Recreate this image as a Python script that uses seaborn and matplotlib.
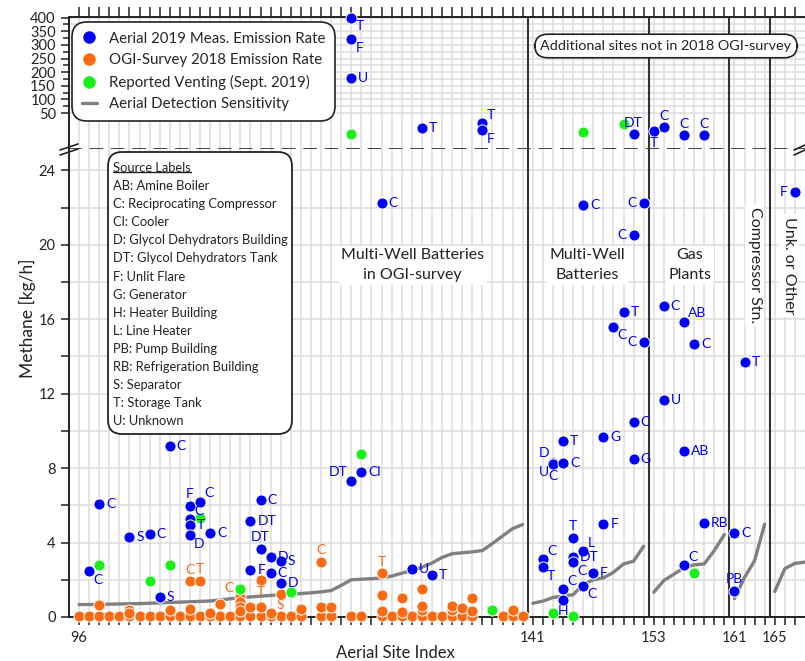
import numpy as np
import pandas as pd
import matplotlib
matplotlib.use("Agg")
import matplotlib.pyplot as plt
import seaborn as sns
from matplotlib.lines import Line2D
from matplotlib.patches import FancyBboxPatch
from matplotlib.transforms import IdentityTransform

# ---- values ----
# Aerial 2019 measured emission rates, lower panel (kg/h)
aer_site = [97, 98, 101, 103, 104, 105, 107, 107, 107, 107, 108, 109,
            113, 113, 114, 114, 115, 115, 116, 116, 123, 124, 126, 129, 131,
            142, 142, 143, 143, 143, 144, 144, 144, 144, 145, 145, 145,
            146, 146, 146, 147, 148, 148, 149, 150, 151, 151, 151, 152, 152,
            154, 154, 156, 156, 156, 157, 158, 161, 161, 162, 167]
aer_rate = [2.45, 6.05, 4.32, 4.48, 1.10, 9.21, 5.99, 5.24, 4.97, 4.38, 6.20, 4.54,
            5.18, 2.50, 6.31, 3.68, 3.25, 2.34, 3.03, 1.85, 7.33, 7.81, 22.25, 2.60, 2.28,
            3.09, 2.66, 8.35, 8.28, 8.22, 8.30, 9.48, 1.48, 0.94, 4.27, 3.20, 2.93,
            3.52, 1.69, 22.15, 2.34, 9.69, 5.02, 15.60, 16.41, 10.47, 8.51, 20.54, 22.26, 14.75,
            11.68, 16.69, 15.87, 8.94, 2.77, 14.68, 5.07, 4.54, 1.42, 13.72, 22.86]
aer_src = ['C', 'C', 'S', 'C', 'S', 'C', 'F', 'C', 'T', 'D', 'C', 'C',
           'DT', 'F', 'C', 'DT', 'D', 'C', 'S', 'D', 'DT', 'Cl', 'C', 'U', 'T',
           'C', 'T', 'D', 'U', 'C', 'C', 'T', 'C', 'H', 'T', 'DT', 'C',
           'L', 'C', 'C', 'F', 'G', 'F', 'C', 'T', 'C', 'G', 'C', 'C', 'C',
           'U', 'C', 'AB', 'AB', 'C', 'C', 'RB', 'C', 'PB', 'T', 'F']
# where each source tag sits next to its dot
aer_side = ['br', 'r', 'r', 'r', 'r', 'r', 'a', 'ar', 'r', 'br', 'ar', 'r',
            'r', 'r', 'r', 'a', 'r', 'r', 'r', 'r', 'al', 'r', 'r', 'r', 'r',
            'ar', 'br', 'al', 'bl', 'b', 'r', 'r', 'ar', 'b', 'a', 'r', 'br',
            'ar', 'br', 'r', 'r', 'r', 'r', 'br', 'r', 'r', 'r', 'l', 'l', 'l',
            'r', 'r', 'ar', 'r', 'ar', 'r', 'r', 'r', 'a', 'r', 'l']

# Aerial measurements above the axis break (kg/h)
up_site = [123, 123, 123, 130, 136, 136, 151, 153, 154, 156, 158]
up_rate = [400, 320, 180, 39, 42.6, 38, 35, 37, 40, 34, 34]
up_src = ['T', 'F', 'U', 'T', 'T', 'F', 'DT', 'T', 'C', 'C', 'C']
up_side = ['br', 'br', 'r', 'r', 'ar', 'br', 'a', 'b', 'a', 'a', 'a']

# Reported venting (Sept. 2019)
vent_site = [98, 103, 105, 108, 112, 117, 124, 137, 143, 145, 157]
vent_rate = [2.82, 1.96, 2.82, 5.34, 1.53, 1.32, 8.78, 0.35, 0.19, 0.08, 2.39]
vent_up_site = [123, 146, 150]
vent_up_rate = [35, 36.4, 42]

# OGI-survey 2018 emission rates
ogi_zero_site = [96, 97, 98, 99, 100, 101, 102, 103, 104, 105, 106, 107, 108, 109,
                 110, 111, 112, 113, 114, 115, 116, 117, 118, 120, 121, 123, 124,
                 126, 127, 128, 129, 130, 131, 132, 133, 134, 135, 138, 139, 140]
ogi_zero_rate = [0.08, 0.08, 0.08, 0.08, 0.08, 0.08, 0.08, 0.08, 0.08, 0.08, 0.08,
                 0.08, 0.08, 0.08, 0.08, 0.08, 0.08, 0.08, 0.08, 0.08, 0.08, 0.08,
                 0.08, 0.08, 0.08, 0.08, 0.08, 0.08, 0.08, 0.08, 0.08, 0.08, 0.08,
                 0.08, 0.08, 0.08, 0.08, 0.08, 0.08, 0.08]
ogi_site = [98, 101, 101, 105, 107, 107, 108, 109, 110, 112, 112, 112, 112, 112, 112,
            113, 114, 114, 115, 116, 118, 120, 120, 121, 126, 126, 126, 128, 128,
            130, 130, 130, 133, 133, 134, 135, 135, 139]
ogi_rate = [0.67, 0.35, 0.22, 0.35, 0.45, 1.91, 1.96, 0.2, 0.72, 1.55, 1.3, 1.05, 0.8,
            0.55, 0.3, 0.52, 0.52, 1.98, 0.2, 1.25, 0.45, 0.52, 2.98, 0.52, 0.3, 1.2,
            2.34, 0.25, 1.04, 0.35, 0.6, 1.53, 0.35, 0.6, 0.5, 0.3, 1.0, 0.35]
ogi_lab_site = [107, 108, 112, 114, 116, 120, 126]
ogi_lab_rate = [1.91, 1.96, 1.55, 1.98, 1.25, 2.98, 2.34]
ogi_lab_src = ['C', 'T', 'C', 'T', 'S', 'C', 'T']
ogi_lab_side = ['a', 'a', 'l', 'b', 'b', 'a', 'a']

# Aerial detection sensitivity, one segment per site group
sens_site_1 = list(range(96, 141))
sens_rate_1 = [.67, .67, .68, .69, .70, .71, .72, .74, .76, .78, .80, .82, .84, .86, .92,
               .98, 1.04, 1.08, 1.12, 1.16, 1.20, 1.23, 1.26, 1.30, 1.35, 1.42, 1.70,
               2.00, 2.03, 2.06, 2.10, 2.20, 2.35, 2.50, 2.67, 2.90, 3.20, 3.40, 3.45,
               3.50, 3.57, 3.95, 4.35, 4.75, 4.97]
sens_site_2 = list(range(141, 153))
sens_rate_2 = [0.74, 0.85, 1.05, 1.12, 1.2, 1.75, 2.0, 2.1, 2.4, 2.85, 3.0, 3.8]
sens_site_3 = list(range(153, 161))
sens_rate_3 = [1.33, 1.96, 2.3, 2.65, 2.8, 2.85, 3.57, 4.43]
sens_site_4 = [161, 162, 163, 164]
sens_rate_4 = [0.99, 2.12, 3.03, 4.99]
sens_site_5 = [165, 166, 167, 168]
sens_rate_5 = [1.37, 2.6, 2.88, 2.95]

group_bounds = [140.5, 152.5, 160.5, 164.5]
label_ticks = [96, 141, 153, 161, 165]

source_names = ['AB: Amine Boiler', 'C: Reciprocating Compressor', 'Cl: Cooler',
                'D: Glycol Dehydrators Building', 'DT: Glycol Dehydrators Tank',
                'F: Unlit Flare', 'G: Generator', 'H: Heater Building', 'L: Line Heater',
                'PB: Pump Building', 'RB: Refrigeration Building', 'S: Separator',
                'T: Storage Tank', 'U: Unknown']

BLUE = '#0000f5'
ORANGE = '#fb6a12'
GREEN = '#19f019'
GREY = '#808080'
INK = '#222222'

sns.set_theme(style="white")
plt.rcParams['font.family'] = ['Lato', 'DejaVu Sans']

W, H = 805, 661
fig = plt.figure(figsize=(W / 100, H / 100), dpi=100)
ax_lo = fig.add_axes([69 / W, 44 / H, 736 / W, 469 / H])
ax_hi = fig.add_axes([69 / W, 513 / H, 736 / W, 131 / H])


# upper panel: stretched below 50 so the break reads like the original
def fwd(v):
    v = np.asarray(v, dtype=float)
    return np.where(v < 50, (v - 25) * 1.4, 35 + (v - 50) * 0.2743)


def inv(p):
    p = np.asarray(p, dtype=float)
    return np.where(p < 35, 25 + p / 1.4, 50 + (p - 35) / 0.2743)


ax_hi.set_yscale('function', functions=(fwd, inv))

sens = pd.concat([
    pd.DataFrame({'site': s, 'rate': r, 'seg': i})
    for i, (s, r) in enumerate([(sens_site_1, sens_rate_1), (sens_site_2, sens_rate_2),
                                (sens_site_3, sens_rate_3), (sens_site_4, sens_rate_4),
                                (sens_site_5, sens_rate_5)])])
ogi = pd.DataFrame({'site': ogi_zero_site + ogi_site, 'rate': ogi_zero_rate + ogi_rate})
aer = pd.DataFrame({'site': aer_site, 'rate': aer_rate})
vent = pd.DataFrame({'site': vent_site, 'rate': vent_rate})
aer_up = pd.DataFrame({'site': up_site, 'rate': up_rate})
vent_up = pd.DataFrame({'site': vent_up_site, 'rate': vent_up_rate})

dot = dict(s=64, edgecolor='white', linewidth=0.7, clip_on=False, legend=False)
sns.lineplot(data=sens, x='site', y='rate', units='seg', estimator=None, color=GREY,
             lw=2.4, ax=ax_lo, legend=False, zorder=2)
sns.scatterplot(data=ogi, x='site', y='rate', color=ORANGE, ax=ax_lo, zorder=3, **dot)
sns.scatterplot(data=vent, x='site', y='rate', color=GREEN, ax=ax_lo, zorder=4, **dot)
sns.scatterplot(data=aer, x='site', y='rate', color=BLUE, ax=ax_lo, zorder=5, **dot)
sns.scatterplot(data=vent_up, x='site', y='rate', color=GREEN, ax=ax_hi, zorder=4, **dot)
sns.scatterplot(data=aer_up, x='site', y='rate', color=BLUE, ax=ax_hi, zorder=5, **dot)

OFF = {'r': (5, 0, 'left', 'center'), 'l': (-5, 0, 'right', 'center'),
       'a': (0, 4, 'center', 'bottom'), 'b': (0, -4, 'center', 'top'),
       'ar': (3, 2, 'left', 'bottom'), 'br': (3, -2, 'left', 'top'),
       'al': (-3, 2, 'right', 'bottom'), 'bl': (-3, -2, 'right', 'top')}


def tag(ax, xs, ys, labs, sides, color):
    for x, y, lab, sd in zip(xs, ys, labs, sides):
        dx, dy, ha, va = OFF[sd]
        ax.annotate(lab, (x, y), xytext=(dx, dy), textcoords='offset points',
                    ha=ha, va=va, color=color, fontsize=10, zorder=6,
                    annotation_clip=False)


tag(ax_lo, aer_site, aer_rate, aer_src, aer_side, BLUE)
tag(ax_lo, ogi_lab_site, ogi_lab_rate, ogi_lab_src, ogi_lab_side, ORANGE)
tag(ax_hi, up_site, up_rate, up_src, up_side, BLUE)

for ax in (ax_lo, ax_hi):
    ax.set_xlim(95, 168)
    ax.set_xticks(label_ticks)
    ax.set_xticks([s for s in range(96, 168) if s not in label_ticks], minor=True)
    ax.grid(True, which='both', color='#dddddd', lw=1.1, zorder=0)
    ax.set_axisbelow(True)
    ax.set_xlabel('')
    ax.set_ylabel('')
    for x in group_bounds:
        ax.axvline(x, color='#333333', lw=1.5, zorder=2)
    for sp in ax.spines.values():
        sp.set_color(INK)
        sp.set_linewidth(1.4)
    ax.spines['right'].set_visible(False)

ax_lo.set_ylim(0, 25.2)
ax_lo.set_yticks([0, 4, 8, 12, 16, 20, 24])
ax_lo.set_yticks([2, 6, 10, 14, 18, 22], minor=True)
ax_lo.spines['top'].set_linestyle((0, (6, 5)))
ax_lo.spines['top'].set_color('#444444')
ax_lo.tick_params(axis='both', which='both', direction='out', length=6, width=1.1,
                  colors=INK, labelsize=10.5, left=True, bottom=True, top=False)
ax_lo.tick_params(axis='x', pad=4)

ax_hi.set_ylim(25, 402)
ax_hi.set_yticks([50, 100, 150, 200, 250, 300, 350, 400])
ax_hi.set_yticks([75, 125, 175, 225, 275, 325, 375], minor=True)
ax_hi.set_yticklabels(['50', '100', '150', '200', '250', '300', '350', '400'])
ax_hi.spines['bottom'].set_visible(False)
ax_hi.tick_params(axis='x', which='both', direction='out', length=7, width=1.1,
                  colors=INK, top=True, bottom=False, labeltop=False, labelbottom=False)
ax_hi.tick_params(axis='y', which='both', direction='out', length=6, width=1.1,
                  colors=INK, labelsize=10.5, left=True)
ax_hi.tick_params(axis='y', which='minor', length=4)

handles = [Line2D([], [], marker='o', ls='', color=BLUE, ms=8),
           Line2D([], [], marker='o', ls='', color=ORANGE, ms=8),
           Line2D([], [], marker='o', ls='', color=GREEN, ms=8),
           Line2D([], [], color=GREY, lw=2.4)]
leg = ax_hi.legend(handles, ['Aerial 2019 Meas. Emission Rate', 'OGI-Survey 2018 Emission Rate',
                             'Reported Venting (Sept. 2019)', 'Aerial Detection Sensitivity'],
                   loc='upper left', bbox_to_anchor=(0.004, 0.962), borderaxespad=0,
                   fontsize=10.8, handlelength=1.0, handletextpad=0.8, labelspacing=0.5,
                   borderpad=0.65, frameon=True, framealpha=1, edgecolor=INK)
leg.get_frame().set_boxstyle('round,pad=0,rounding_size=1.0')
leg.get_frame().set_linewidth(1.2)
leg.set_zorder(10)

# group names
sec = dict(ha='center', va='center', fontsize=11.5, color=INK, linespacing=1.55, zorder=3,
           bbox=dict(fc='white', ec='none', pad=2))
ax_lo.text(129.1, 18.9, 'Multi-Well Batteries\nin OGI-survey', **sec)
ax_lo.text(146.4, 18.9, 'Multi-Well\nBatteries', **sec)
ax_lo.text(156.6, 18.9, 'Gas\nPlants', **sec)
ax_lo.text(163.0, 18.9, 'Compressor Stn.', rotation=270, **sec)
ax_lo.text(166.4, 18.9, 'Unk. or Other', rotation=270, **sec)

px = IdentityTransform()
fig.text(666, H - 46, 'Additional sites not in 2018 OGI-survey', transform=px,
         ha='center', va='center', fontsize=10.4, color=INK, zorder=5,
         bbox=dict(boxstyle='round,pad=0.4,rounding_size=0.9', fc='white', ec=INK, lw=1.2))

# source label box
fig.add_artist(FancyBboxPatch((108, H - 434), 184, 282, boxstyle='round,pad=0,rounding_size=14',
                              transform=px, fc='white', ec=INK, lw=1.3, zorder=2))
title = fig.text(113, H - 168, 'Source Labels', transform=px, fontsize=9.3,
                 ha='left', va='center', color=INK, zorder=3)
for i, name in enumerate(source_names):
    fig.text(113, H - 168 - 18.1 * (i + 1), name, transform=px, fontsize=9.3,
             ha='left', va='center', color=INK, zorder=3)

fig.text(27, H - 318, 'Methane [kg/h]', transform=px, rotation=90, ha='center',
         va='center', fontsize=12.5, color=INK)
fig.text(395, H - 653, 'Aerial Site Index', transform=px, ha='center', va='center',
         fontsize=12, color=INK)

# axis-break marks
for dy in (0, 5):
    fig.add_artist(Line2D([60, 78], [H - 150 - dy, H - 144 - dy], transform=px,
                          color=INK, lw=1.2))
    fig.add_artist(Line2D([794, 805], [H - 150 - dy, H - 145 - dy], transform=px,
                          color=INK, lw=1.2))

fig.canvas.draw()
bb = title.get_window_extent(fig.canvas.get_renderer())
fig.add_artist(Line2D([bb.x0, bb.x1], [bb.y0 + 2, bb.y0 + 2], transform=px,
                      color=INK, lw=1.0, zorder=3))

fig.savefig('out.png', dpi=100)
